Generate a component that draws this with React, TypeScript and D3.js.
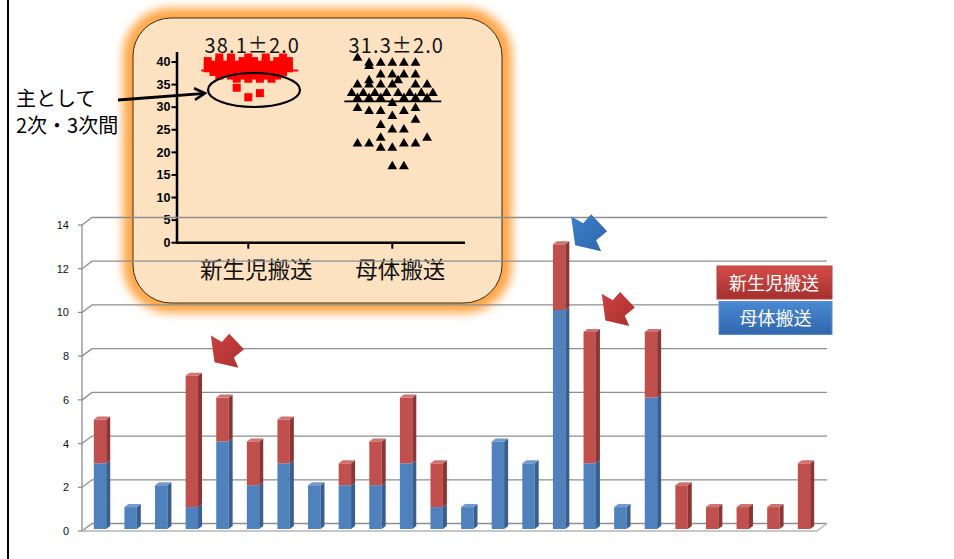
import React from "react";
import * as d3 from "d3";

// Monthly transport counts (24 months), stacked: maternal (blue) below, neonatal (red) on top
const maternal = [3, 1, 2, 1, 4, 2, 3, 2, 2, 2, 3, 1, 1, 4, 3, 10, 3, 1, 6, 0, 0, 0, 0, 0];
const neonatal = [2, 0, 0, 6, 2, 2, 2, 0, 1, 2, 3, 2, 0, 0, 0, 3, 6, 0, 3, 2, 1, 1, 1, 3];
const yTicks = [0, 2, 4, 6, 8, 10, 12, 14];
const seriesNames = ["新生児搬送", "母体搬送"];

// Gestational age (weeks) per case; slot = horizontal swarm position (half columns)
const neoSlots = [
  -5, -3, 0, 3, 6,
  -7, -5, -3, -1, 1, 3, 5, 7,
  -6, -4, -2, 0, 2, 4, 6,
  -7, -5, -3, -1, 1, 3, 5, 7,
  -6, -4, -2, 0, 2, 4, 6,
  -5, -3, -1, 1, 3, 5,
  -2, 0, 2, 4,
  -2, 2, 0,
];
const neoWeeks = [
  41.0, 41.0, 41.0, 41.0, 41.0,
  40.2, 40.2, 40.2, 40.2, 40.2, 40.2, 40.2, 40.2,
  39.4, 39.4, 39.4, 39.4, 39.4, 39.4, 39.4,
  38.6, 38.6, 38.6, 38.6, 38.6, 38.6, 38.6, 38.6,
  37.8, 37.8, 37.8, 37.8, 37.8, 37.8, 37.8,
  37.0, 37.0, 37.0, 37.0, 37.0, 37.0,
  36.3, 36.3, 36.3, 36.3,
  34.3, 33.1, 32.2,
];
const matSlots = [
  -6,
  -4, -2, 0, 2, 4, -4,
  -2, 0, 2, 4, -4, 1,
  -6, -4, -2, 0, 4, 6,
  -7, -5, -3, -1, 1, 3, 5, 7,
  -6, -4, -2, 2, 4, 6,
  0,
  -6, 4,
  -4, -2, 2,
  0, 4, -2,
  0, 2,
  -2, 6,
  -6, -4, 2, 4,
  -2, 0,
  0, 2,
];
const matWeeks = [
  40.9,
  39.8, 39.8, 39.8, 39.8, 39.8, 39.1,
  37.2, 37.2, 37.2, 37.2, 35.9, 35.9,
  35.0, 35.0, 35.0, 35.0, 35.0, 35.0,
  33.1, 33.1, 33.1, 33.1, 33.1, 33.1, 33.1, 33.1,
  32.0, 32.0, 32.0, 32.0, 32.0, 32.0,
  30.9,
  29.8, 29.8,
  29.1, 29.1, 29.1,
  28.0, 27.2, 26.0,
  25.0, 25.0,
  23.2, 23.2,
  21.9, 21.9, 21.9, 21.9,
  21.0, 21.0,
  16.9, 16.9,
];
const groupMeans = [38.1, 31.3];
const groupSD = [2.0, 2.0];
const insetTicks = [0, 5, 10, 15, 20, 25, 30, 35, 40];

// Callout arrows: bar index and offset from that bar's top
const callouts = [
  { bar: 3, dx: 19, dy: -42, color: "red", scale: 0.92 },
  { bar: 15, dx: 12, dy: -30, color: "blue", scale: 1 },
  { bar: 16, dx: 12, dy: -40, color: "red", scale: 0.92 },
];
const arrowShape: [number, number][] = [
  [0, 2], [12, 9], [20, 0], [36, 17], [25, 26], [30, 37], [4, 31],
];

const W = 954;
const H = 559;

// main chart geometry (3D: back plane offset)
const DX = 10;
const DY = -7.5;
const x = d3.scaleBand<number>().domain(d3.range(24)).range([84.7, 819.3]);
const yAxis = d3.scaleLinear().domain([0, 14]).range([531, 225]);
const yBar = d3.scaleLinear().domain([0, 14]).range([529, 222.4]);
const BW = 12.4;
const BDX = 4;
const BDY = -3;

// inset geometry
const xIn = d3.scalePoint<string>().domain(seriesNames).range([248.3, 392.3]);
const yIn = d3.scaleLinear().domain([0, 40]).range([242.7, 62]);
const SLOT = 5.8;

const cjk = "'Noto Sans CJK JP', 'Noto Sans', sans-serif";

const colors = {
  blue: { front: "#4F81BD", side: "#385F8F", top: "#6F9BD0" },
  red: { front: "#C0504D", side: "#8B3634", top: "#D07370" },
};

function Bar({ i }: { i: number }) {
  const x0 = (x(i) as number) + x.bandwidth() / 2 - BW / 2;
  const segs = [
    { from: 0, to: maternal[i], c: colors.blue },
    { from: maternal[i], to: maternal[i] + neonatal[i], c: colors.red },
  ].filter((s) => s.to > s.from);
  const total = maternal[i] + neonatal[i];
  return (
    <g>
      {segs.map((s, k) => {
        const yt = yBar(s.to);
        const yb = yBar(s.from);
        return (
          <g key={k}>
            <rect x={x0} y={yt} width={BW} height={yb - yt} fill={s.c.front} />
            <polygon
              points={`${x0 + BW},${yt} ${x0 + BW + BDX},${yt + BDY} ${x0 + BW + BDX},${yb + BDY} ${x0 + BW},${yb}`}
              fill={s.c.side}
            />
            {s.to === total && (
              <polygon
                points={`${x0},${yt} ${x0 + BDX},${yt + BDY} ${x0 + BW + BDX},${yt + BDY} ${x0 + BW},${yt}`}
                fill={s.c.top}
              />
            )}
          </g>
        );
      })}
    </g>
  );
}

export default function App() {
  const gridRight = 827;
  const axisX = 82;
  const tri = d3.symbol().type(d3.symbolTriangle).size(42)();
  return (
    <svg width={W} height={H} style={{ position: "absolute", left: 0, top: 0, background: "#fff" }}>
      <defs>
        <filter id="glow" x="-20%" y="-20%" width="140%" height="140%">
          <feGaussianBlur stdDeviation="5" />
        </filter>
        <linearGradient id="legRed" x1="0" y1="0" x2="0" y2="1">
          <stop offset="0" stopColor="#D44C49" />
          <stop offset="1" stopColor="#A52F2D" />
        </linearGradient>
        <linearGradient id="legBlue" x1="0" y1="0" x2="0" y2="1">
          <stop offset="0" stopColor="#4A89D4" />
          <stop offset="1" stopColor="#2F66AC" />
        </linearGradient>
        <linearGradient id="arRed" x1="0" y1="0" x2="1" y2="1">
          <stop offset="0" stopColor="#CC4140" />
          <stop offset="1" stopColor="#A93130" />
        </linearGradient>
        <linearGradient id="arBlue" x1="0" y1="0" x2="1" y2="1">
          <stop offset="0" stopColor="#3F80CC" />
          <stop offset="1" stopColor="#2E65AA" />
        </linearGradient>
        <marker id="arrowHead" viewBox="0 0 12 12" refX="10" refY="6" markerWidth="5" markerHeight="5" orient="auto">
          <path d="M1,1 L10,6 L1,11" fill="none" stroke="#000" strokeWidth="2.2" />
        </marker>
      </defs>

      {/* left frame line */}
      <line x1={8} y1={0} x2={8} y2={H} stroke="#000" strokeWidth={2} />

      {/* inset: gestational age by transport type */}
      <rect x={133} y={18} width={369} height={285} rx={38} fill="none" stroke="#FFA646" strokeWidth={20} filter="url(#glow)" />
      <rect x={133} y={18} width={369} height={285} rx={38} fill="#FDE2C1" stroke="#3a3020" strokeWidth={1} />

      <line x1={177} y1={52} x2={177} y2={yIn(0) + 1} stroke="#000" strokeWidth={2.5} />
      <line x1={176} y1={yIn(0)} x2={465} y2={yIn(0)} stroke="#000" strokeWidth={2.5} />
      {insetTicks.map((t) => (
        <g key={t}>
          <line x1={171.5} x2={177} y1={yIn(t)} y2={yIn(t)} stroke="#000" strokeWidth={2} />
          <text x={170.5} y={yIn(t) + 4.3} textAnchor="end" fontFamily="'Liberation Sans', Arial, sans-serif" fontWeight="bold" fontSize={12.5}>
            {t}
          </text>
        </g>
      ))}
      {seriesNames.map((n, k) => (
        <g key={n}>
          <line x1={xIn(n)} x2={xIn(n)} y1={yIn(0)} y2={yIn(0) + 6} stroke="#000" strokeWidth={2} />
          <text x={(xIn(n) as number) + 8} y={278} textAnchor="middle" fontFamily={cjk} fontSize={22.5} fill="#111">
            {n}
          </text>
          <text
            x={(xIn(n) as number) + 4}
            y={53}
            textAnchor="middle"
            fontFamily={cjk}
            fontSize={20}
            letterSpacing={1.1}
            fill="#111"
          >
            {`${groupMeans[k].toFixed(1)}±${groupSD[k].toFixed(1)}`}
          </text>
        </g>
      ))}

      {/* neonatal: red squares */}
      {neoWeeks.map((v, k) => (
        <rect
          key={k}
          x={(xIn(seriesNames[0]) as number) + neoSlots[k] * SLOT - 4}
          y={yIn(v) - 4}
          width={8}
          height={8}
          fill="#FF0000"
        />
      ))}
      <line
        x1={(xIn(seriesNames[0]) as number) - 47}
        x2={(xIn(seriesNames[0]) as number) + 50}
        y1={yIn(groupMeans[0])}
        y2={yIn(groupMeans[0])}
        stroke="#FF0000"
        strokeWidth={2}
      />
      {/* maternal: black triangles */}
      {matWeeks.map((v, k) => (
        <path
          key={k}
          d={tri as string}
          transform={`translate(${(xIn(seriesNames[1]) as number) + matSlots[k] * SLOT},${yIn(v)})`}
          fill="#000"
        />
      ))}
      <line
        x1={(xIn(seriesNames[1]) as number) - 48}
        x2={(xIn(seriesNames[1]) as number) + 49}
        y1={yIn(groupMeans[1])}
        y2={yIn(groupMeans[1])}
        stroke="#000"
        strokeWidth={1.8}
      />

      {/* highlighted subgroup */}
      <ellipse cx={254} cy={90} rx={46} ry={17} fill="none" stroke="#000" strokeWidth={2.2} />
      <line x1={118} y1={100} x2={205} y2={93.3} stroke="#000" strokeWidth={2.8} markerEnd="url(#arrowHead)" />
      <text x={16} y={106} fontFamily={cjk} fontSize={20} fill="#000">主として</text>
      <text x={16} y={133} fontFamily={cjk} fontSize={20} fill="#000">2次・3次間</text>

      {/* main chart grid (3D back wall) */}
      {yTicks.map((t) => (
        <g key={t}>
          <polyline
            points={`${axisX},${yAxis(t)} ${axisX + DX},${yAxis(t) + DY} ${gridRight},${yAxis(t) + DY}`}
            fill="none"
            stroke="#8E8E8E"
            strokeWidth={1.3}
          />
          <line x1={axisX - 4} x2={axisX} y1={yAxis(t)} y2={yAxis(t)} stroke="#8E8E8E" strokeWidth={1.3} />
          <text x={69} y={yAxis(t) + 4} textAnchor="end" fontFamily="'Liberation Sans', Arial, sans-serif" fontSize={11} fill="#111">
            {t}
          </text>
        </g>
      ))}
      <line x1={axisX} y1={yAxis(14)} x2={axisX} y2={yAxis(0)} stroke="#8E8E8E" strokeWidth={1.3} />
      {/* floor */}
      <polyline
        points={`${axisX},${yAxis(0)} ${gridRight - DX},${yAxis(0)} ${gridRight},${yAxis(0) + DY}`}
        fill="none"
        stroke="#B5B5B5"
        strokeWidth={1.3}
      />

      {/* stacked 3D bars */}
      {d3.range(24).map((i) => (
        <Bar key={i} i={i} />
      ))}

      {/* callout arrows */}
      {callouts.map((c, k) => {
        const bx = (x(c.bar) as number) + x.bandwidth() / 2 + c.dx;
        const by = yBar(maternal[c.bar] + neonatal[c.bar]) + c.dy;
        const pts = arrowShape.map(([px, py]) => `${bx + px * c.scale},${by + py * c.scale}`).join(" ");
        return <polygon key={k} points={pts} fill={c.color === "red" ? "url(#arRed)" : "url(#arBlue)"} />;
      })}

      {/* legend */}
      <rect x={717} y={266} width={115} height={33} fill="url(#legRed)" stroke="#B84543" strokeWidth={1} />
      <text x={774} y={289.5} textAnchor="middle" fontFamily={cjk} fontSize={18} fill="#fff">
        {seriesNames[0]}
      </text>
      <rect x={719} y={301.5} width={113} height={33} fill="url(#legBlue)" stroke="#5B8FCF" strokeWidth={1} />
      <text x={775.5} y={325} textAnchor="middle" fontFamily={cjk} fontSize={18} fill="#fff">
        {seriesNames[1]}
      </text>
    </svg>
  );
}
